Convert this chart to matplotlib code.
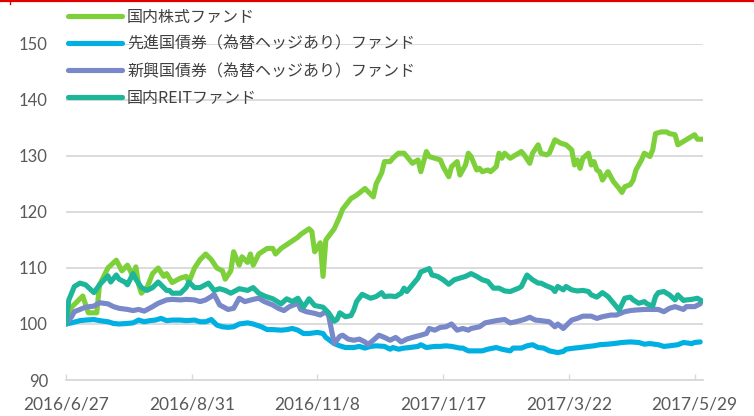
import matplotlib
matplotlib.use("Agg")
import matplotlib.pyplot as plt
from matplotlib.lines import Line2D

# 営業日インデックス(0 = 2016/6/27) と基準価額(始点=100)
tick_pos = [0, 45, 90, 135, 180, 225]
tick_labels = ["2016/6/27", "2016/8/31", "2016/11/8", "2017/1/17", "2017/3/22", "2017/5/29"]

labels = ["国内株式ファンド", "先進国債券（為替ヘッジあり）ファンド",
          "新興国債券（為替ヘッジあり）ファンド", "国内REITファンド"]
colors = ["#7ED03B", "#00B0E2", "#7888C8", "#1DB69A"]

jp_x = [0,2,4,6,8,11,12,15,18,20,22,24,25,26,27,29,31,33,35,36,38,41,43,44,46,48,50,52,54,56,
        57,59,60,62,63,65,66,67,69,72,74,75,77,80,83,84,87,88,89,91,92,93,96,98,99,102,104,107,110,111,
        113,114,116,117,119,121,123,124,126,127,129,130,132,134,135,137,138,140,141,143,144,145,147,148,149,151,152,154,155,156,
        157,159,161,163,164,166,167,169,170,172,173,175,177,179,181,182,183,184,185,187,188,189,190,191,192,194,196,198,199,200,
        202,203,204,206,207,209,210,211,213,215,216,218,219,221,223,225,226,228]
jp_y = [100,103,104,105,102,102,107,110,111.4,109.5,110.5,108.5,110.2,107,105.5,106.5,109,110,108.5,109,
        107.4,108.2,108.5,107.5,110,111.5,112.5,111.5,110,109.5,108,109.5,112.9,110.5,112,111,112.5,110.5,112.5,113.5,
        113.5,112.5,113.5,114.5,115.5,116,117,116.5,112.9,114.5,108.5,115,117,119.2,120.5,122.4,123,124.2,122.7,125,
        127,129,129,129.6,130.5,130.5,129.3,128.7,129.3,127.2,130.8,129.9,129.6,129.3,128.1,126.3,128.1,129,126.6,128.4,
        130.5,129.9,127.5,127.8,127.2,127.5,127.2,128.1,130.5,129.6,130.5,129.6,130.2,130.8,130.2,128.7,130.5,132,130.5,130.2,
        130.5,132.9,132.3,132,131.1,128.4,129.3,127.8,129.6,130.5,128.4,129,127.5,127.2,125.7,127.2,125.4,124.2,123.5,124.5,
        124.9,125.7,127.5,129.3,130.5,129.9,131.1,134,134.3,134.3,134,133.8,132,132.6,133.2,133.8,133,133]

dev_x = [0,2,5,7,10,12,15,17,19,22,24,26,28,30,32,34,36,38,41,43,46,48,50,52,54,56,58,60,62,65,
         67,70,72,74,77,79,81,83,85,87,90,92,93,96,98,100,103,105,107,109,111,114,116,117,119,121,123,126,127,129,
         132,134,136,138,141,142,144,147,149,151,154,156,159,160,163,165,167,169,171,173,176,178,179,182,184,187,189,191,194,196,
         199,202,205,207,209,212,214,216,219,221,224,225,227]
dev_y = [100,100.2,100.6,100.7,100.8,100.6,100.4,100.1,100,100.1,100.2,100.7,100.4,100.6,100.7,101,100.6,100.7,100.7,100.6,
         100.7,100.4,100.4,100.8,99.8,99.5,99.4,99.5,100,100.2,100,99.5,99,99,98.9,99,99.2,98.9,98.3,98.3,
         98.5,98.3,97.6,96.5,96.1,95.8,95.8,96,95.7,96,96.1,96,95.5,95.8,95.5,95.7,95.8,96,96.3,95.8,
         96,96,96.1,96,95.7,95.7,95.2,95.2,95.2,95.5,95.8,95.5,95.2,95.7,95.7,96.1,96.3,95.8,95.7,95.2,
         94.9,95.1,95.5,95.7,95.8,96,96.1,96.3,96.4,96.5,96.7,96.8,96.7,96.4,96.5,96.3,96,96.1,96.3,96.7,
         96.5,96.7,96.8]

emg_x = [0,2,3,5,7,10,12,15,17,19,22,24,26,28,31,33,36,38,41,43,46,48,50,52,53,55,58,60,62,64,
         67,69,71,74,76,78,80,83,84,86,89,91,93,94,96,98,99,101,103,105,107,108,110,112,114,116,118,120,122,124,
         127,129,130,132,134,136,138,140,142,144,145,148,150,152,154,157,159,161,164,166,168,170,173,175,176,178,181,183,185,188,
         190,192,195,197,200,202,204,207,209,212,214,216,218,221,222,225,227]
emg_y = [100,101.3,102.2,102.6,103,103.2,103.8,103.6,103.1,102.8,102.6,102.4,102.6,102.3,103.1,103.7,104.3,104.4,104.3,104.4,
         104.3,104,104.3,104.9,105.3,103.4,102.6,102.8,104.6,104,104.4,104.6,104,103.4,102.8,102.4,103.1,103.7,102.6,102.2,
         101.9,101.6,102.2,101.5,96.5,97.8,98,97.3,97.1,97.3,96.8,96.3,97.1,98,97.6,97.1,97.6,96.8,97.3,97.6,
         98,98.3,99.2,98.9,99.4,99.5,100,98.9,99.2,98.9,99.2,99.5,100.2,100.4,100.6,100.8,100.2,100.4,100.8,101.2,
         100.7,100.6,100.4,99.5,100,99.2,100.7,101,101.4,101.4,101,101.3,101.6,101.6,102.2,102.4,102.5,102.6,102.6,102.6,
         102.2,102.8,103.1,102.6,103.1,103.1,103.6]

reit_x = [0,1,3,5,7,10,12,15,16,18,19,21,22,24,25,27,29,31,33,36,37,38,41,43,44,46,48,51,53,55,
          57,59,62,65,67,69,71,74,77,79,81,83,85,87,89,92,94,96,97,98,100,102,103,104,106,109,111,113,114,116,
          118,120,121,122,124,126,127,130,131,133,135,137,139,141,143,145,147,149,151,153,155,157,159,162,163,165,167,169,170,172,
          174,175,176,178,179,181,183,185,187,188,190,192,194,196,198,200,202,203,205,207,208,210,211,212,214,216,218,219,221,222,
          224,226,228]
reit_y = [100,104.3,106.7,107.3,107,105.6,107,108.6,107.5,108.75,108,107.5,107,109,108,106.5,106,106.5,107.5,106,
          106,105.5,105.5,106.5,107.5,106.5,106.5,107.3,106,106.3,106,105.5,106.3,106,106.5,105.5,105,104.5,103.6,104.5,
          104,104.6,103,104.5,103.3,103,102,100.5,100.8,102,101.3,101.5,102.5,104,105.3,104.6,104.9,105.6,104.9,105,
          104.9,105.5,106.4,105.8,107,108.2,109.3,109.9,108.75,108.5,107.9,107.1,107.9,108.2,108.5,109,108.5,107.9,107.6,106.4,
          106.4,105.9,105.8,106.4,106.7,108.75,107.9,107.3,107.3,106.8,106.4,105.8,106.7,106.1,106.7,106.1,105.9,106,105.8,105.2,
          104.8,105.6,104.9,103.7,102.5,104.6,104.8,104.3,103.7,104,103.6,103.2,104.9,105.6,105.8,105.2,104.3,105.2,104.2,104.3,
          104.4,104.6,104]

plt.rcParams['font.family'] = ['Noto Sans CJK JP', 'DejaVu Sans']

W, H = 754, 416
fig = plt.figure(figsize=(W / 100, H / 100), dpi=100)
ax = fig.add_axes([66 / W, 1 - 380 / H, (703 - 66) / W, (380 - 44) / H])

series = [(jp_x, jp_y), (dev_x, dev_y), (emg_x, emg_y), (reit_x, reit_y)]
for (xs, ys), lab, c in zip(series, labels, colors):
    ax.plot(xs, ys, color=c, lw=3.7, label=lab, solid_joinstyle='round', solid_capstyle='round')

ax.set_xlim(0, 228)
ax.set_ylim(90, 150)
ax.set_yticks(range(90, 151, 10))
ax.set_xticks(tick_pos)
ax.set_xticklabels(tick_labels)

grid_c = "#D9D9D9"
ax.grid(axis='y', color=grid_c, lw=1.3)
ax.set_axisbelow(True)
for s in ['top', 'right', 'left']:
    ax.spines[s].set_visible(False)
ax.spines['bottom'].set_color(grid_c)
ax.spines['bottom'].set_linewidth(1.3)
ax.tick_params(axis='y', length=0, pad=13, labelsize=12, labelcolor="#595959", labelfontfamily='Lato')
ax.tick_params(axis='x', direction='in', length=4.5, width=1, color=grid_c, pad=12,
               labelsize=12.5, labelcolor="#595959", labelfontfamily='Lato')

fig.legend(loc='upper left', bbox_to_anchor=(68 / W, 1 - 9 / H), frameon=False,
           fontsize=11.5, labelcolor="#404040", handlelength=3.4, handletextpad=0.3,
           labelspacing=0.62, borderpad=0, borderaxespad=0)

# 上端の赤線
fig.add_artist(Line2D([0, 1], [1 - 1 / H, 1 - 1 / H], color="#E00000", lw=1.6))
fig.add_artist(Line2D([10 / W, 10 / W], [1 - 1 / H, 1 - 4 / H], color="#E00000", lw=1))

fig.savefig("out.png", dpi=100)
